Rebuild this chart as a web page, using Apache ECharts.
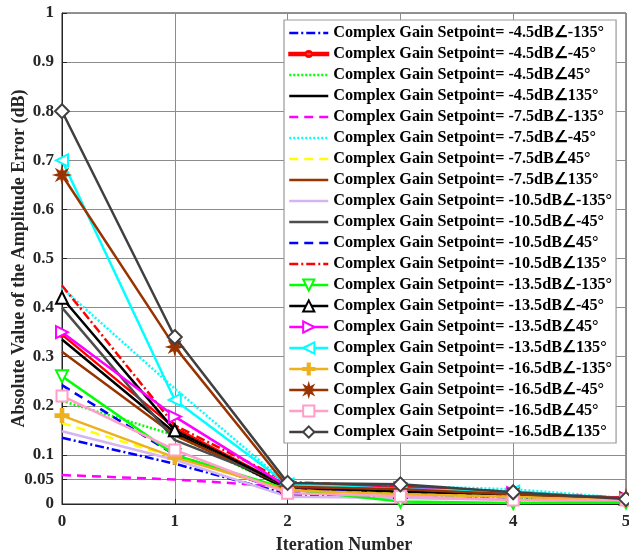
<!DOCTYPE html>
<html>
<head>
<meta charset="utf-8">
<script src="https://cdn.jsdelivr.net/npm/echarts@6/dist/echarts.min.js"></script>
<style>
html, body { margin: 0; padding: 0; background: #fff; }
#chart { width: 629px; height: 559px; }
</style>
</head>
<body>
<div id="chart"></div>
<script>
// iteration index and y tick labels
const iterations = [0, 1, 2, 3, 4, 5];
const yTicks = [0, 0.05, 0.1, 0.2, 0.3, 0.4, 0.5, 0.6, 0.7, 0.8, 0.9, 1];

const setpoints = [
    "-4.5dB∠-135°", "-4.5dB∠-45°", "-4.5dB∠45°", "-4.5dB∠135°",
    "-7.5dB∠-135°", "-7.5dB∠-45°", "-7.5dB∠45°", "-7.5dB∠135°",
    "-10.5dB∠-135°", "-10.5dB∠-45°", "-10.5dB∠45°", "-10.5dB∠135°",
    "-13.5dB∠-135°", "-13.5dB∠-45°", "-13.5dB∠45°", "-13.5dB∠135°",
    "-16.5dB∠-135°", "-16.5dB∠-45°", "-16.5dB∠45°", "-16.5dB∠135°"
];

// amplitude error per setpoint (dB)
const g45m135 = [0.135, 0.082, 0.020, 0.015, 0.010, 0.008];
const g45m45 = [0.345, 0.155, 0.035, 0.028, 0.022, 0.012];
const g45p45 = [0.210, 0.140, 0.030, 0.020, 0.012, 0.008];
const g45p135 = [0.335, 0.145, 0.030, 0.025, 0.018, 0.010];
const g75m135 = [0.059, 0.050, 0.035, 0.030, 0.022, 0.012];
const g75m45 = [0.440, 0.235, 0.040, 0.037, 0.030, 0.012];
const g75p45 = [0.165, 0.095, 0.028, 0.022, 0.015, 0.008];
const g75p135 = [0.310, 0.140, 0.035, 0.030, 0.022, 0.012];
const g105m135 = [0.148, 0.090, 0.015, 0.012, 0.008, 0.005];
const g105m45 = [0.400, 0.130, 0.040, 0.035, 0.025, 0.010];
const g105p45 = [0.242, 0.100, 0.025, 0.030, 0.020, 0.010];
const g105p135 = [0.445, 0.160, 0.045, 0.035, 0.022, 0.012];
const g135m135 = [0.260, 0.100, 0.030, 0.005, 0.002, 0.003];
const g135m45 = [0.420, 0.150, 0.035, 0.025, 0.020, 0.010];
const g135p45 = [0.350, 0.178, 0.035, 0.032, 0.022, 0.012];
const g135p135 = [0.700, 0.212, 0.040, 0.030, 0.025, 0.010];
const g165m135 = [0.180, 0.095, 0.028, 0.020, 0.015, 0.008];
const g165m45 = [0.670, 0.320, 0.035, 0.030, 0.020, 0.012];
const g165p45 = [0.220, 0.110, 0.022, 0.016, 0.008, 0.008];
const g165p135 = [0.800, 0.340, 0.043, 0.040, 0.024, 0.010];

const allValues = [
    g45m135, g45m45, g45p45, g45p135,
    g75m135, g75m45, g75p45, g75p135,
    g105m135, g105m45, g105p45, g105p135,
    g135m135, g135m45, g135p45, g135p135,
    g165m135, g165m45, g165p45, g165p135
];

const FONT = "'Liberation Serif', 'Times New Roman', serif";
const DASHDOT = [9, 3, 2, 3];
const DASH = [9, 6];
const DOT = [2, 2];
const PLUS = "path://M4,0H6V4H10V6H6V10H4V6H0V4H4Z";
const STAR = "path://M5,0L5.84,2.97L8.54,1.46L7.03,4.16L10,5L7.03,5.84L8.54,8.54L5.84,7.03L5,10L4.16,7.03L1.46,8.54L2.97,5.84L0,5L2.97,4.16L1.46,1.46L4.16,2.97Z";
// legend icon: solid line with a small dot, in the 39x14 legend box
const LINEDOT = "path://M0,0M39,14M0,5.8H39V8.2H0Z M16.5,7A3,3,0,1,0,22.5,7A3,3,0,1,0,16.5,7Z";

// line colour, dash, marker
const styles = [
    { color: "#0000ff", type: DASHDOT, symbol: "none" },
    { color: "#ff0000", type: "solid", symbol: "circle", size: 5, legendIcon: LINEDOT },
    { color: "#00ff00", type: DOT, symbol: "none" },
    { color: "#000000", type: "solid", symbol: "none" },
    { color: "#ff00ff", type: DASH, symbol: "none" },
    { color: "#00ffff", type: DOT, symbol: "none" },
    { color: "#ffff00", type: DASH, symbol: "none" },
    { color: "#993300", type: "solid", symbol: "none" },
    { color: "#d6b4f2", type: "solid", symbol: "none" },
    { color: "#4d4d4d", type: "solid", symbol: "none" },
    { color: "#0000ff", type: DASH, symbol: "none" },
    { color: "#ff0000", type: DASHDOT, symbol: "none" },
    { color: "#00ff00", type: "solid", symbol: "emptyTriangle", rotate: 180, size: 12 },
    { color: "#000000", type: "solid", symbol: "emptyTriangle", size: 12 },
    { color: "#ff00ff", type: "solid", symbol: "emptyTriangle", rotate: -90, size: 12 },
    { color: "#00ffff", type: "solid", symbol: "emptyTriangle", rotate: 90, size: 12 },
    { color: "#edb120", type: "solid", symbol: PLUS, size: 13 },
    { color: "#993300", type: "solid", symbol: STAR, size: 13 },
    { color: "#ff9ec8", type: "solid", symbol: "emptyRect", size: 11 },
    { color: "#404040", type: "solid", symbol: "emptyDiamond", size: 14 }
];

const series = setpoints.map((sp, i) => {
    const s = styles[i];
    return {
        name: "Complex Gain Setpoint= " + sp,
        type: "line",
        data: iterations.map((x, j) => [x, allValues[i][j]]),
        symbol: s.symbol,
        symbolSize: s.size || 0,
        symbolRotate: s.rotate || 0,
        showSymbol: s.symbol !== "none",
        lineStyle: { color: s.color, width: 2.5, type: s.type },
        itemStyle: { color: s.color, borderColor: s.color, borderWidth: 2 },
        emphasis: { disabled: true },
        z: 2 + i * 0.01
    };
});

// legend entries: hide the marker for plain lines
const legendData = series.map((s, i) => {
    const item = { name: s.name };
    if (styles[i].symbol === "none") item.itemStyle = { opacity: 0 };
    if (styles[i].legendIcon) item.icon = styles[i].legendIcon;
    return item;
});

const chart = echarts.init(document.getElementById("chart"));
chart.setOption({
    animation: false,
    backgroundColor: "#fff",
    textStyle: { fontFamily: FONT },
    grid: {
        left: 62, right: 3, top: 13, bottom: 55,
        outerBoundsMode: "none",
        containLabel: false,
        show: true, borderColor: "#262626", borderWidth: 1
    },
    legend: {
        orient: "vertical",
        left: 284, top: 20,
        itemWidth: 39, itemHeight: 14, itemGap: 5,
        padding: [5, 4, 3, 4],
        backgroundColor: "#fff",
        borderColor: "#999", borderWidth: 1.2,
        lineStyle: { width: 2.5 },
        textStyle: { fontFamily: FONT, fontWeight: "bold", fontSize: 16.2, color: "#000" },
        selectedMode: false,
        data: legendData
    },
    xAxis: {
        type: "value", min: 0, max: 5, interval: 1,
        name: "Iteration Number", nameLocation: "middle", nameGap: 32,
        nameMoveOverlap: false,
        nameTextStyle: { fontFamily: FONT, fontWeight: "bold", fontSize: 18, color: "#262626" },
        axisLine: { lineStyle: { color: "#262626" } },
        axisTick: { inside: true, length: 5, lineStyle: { color: "#262626" } },
        axisLabel: { fontFamily: FONT, fontWeight: "bold", fontSize: 17, color: "#262626", margin: 9 },
        splitLine: { show: true, lineStyle: { color: "#8c8c8c" } }
    },
    yAxis: {
        type: "value", min: 0, max: 1, interval: 0.1,
        name: "Absolute Value of the Amplitude Error (dB)", nameLocation: "middle", nameGap: 34,
        nameMoveOverlap: false,
        nameTextStyle: { fontFamily: FONT, fontWeight: "bold", fontSize: 18, color: "#262626" },
        axisLine: { lineStyle: { color: "#262626" } },
        axisTick: { inside: true, length: 5, customValues: yTicks, lineStyle: { color: "#262626" } },
        axisLabel: { fontFamily: FONT, fontWeight: "bold", fontSize: 17, color: "#262626", margin: 8,
            customValues: yTicks, formatter: v => String(+v.toFixed(2)) },
        splitLine: { show: true, lineStyle: { color: "#8c8c8c" } }
    },
    series: series
});
</script>
</body>
</html>
